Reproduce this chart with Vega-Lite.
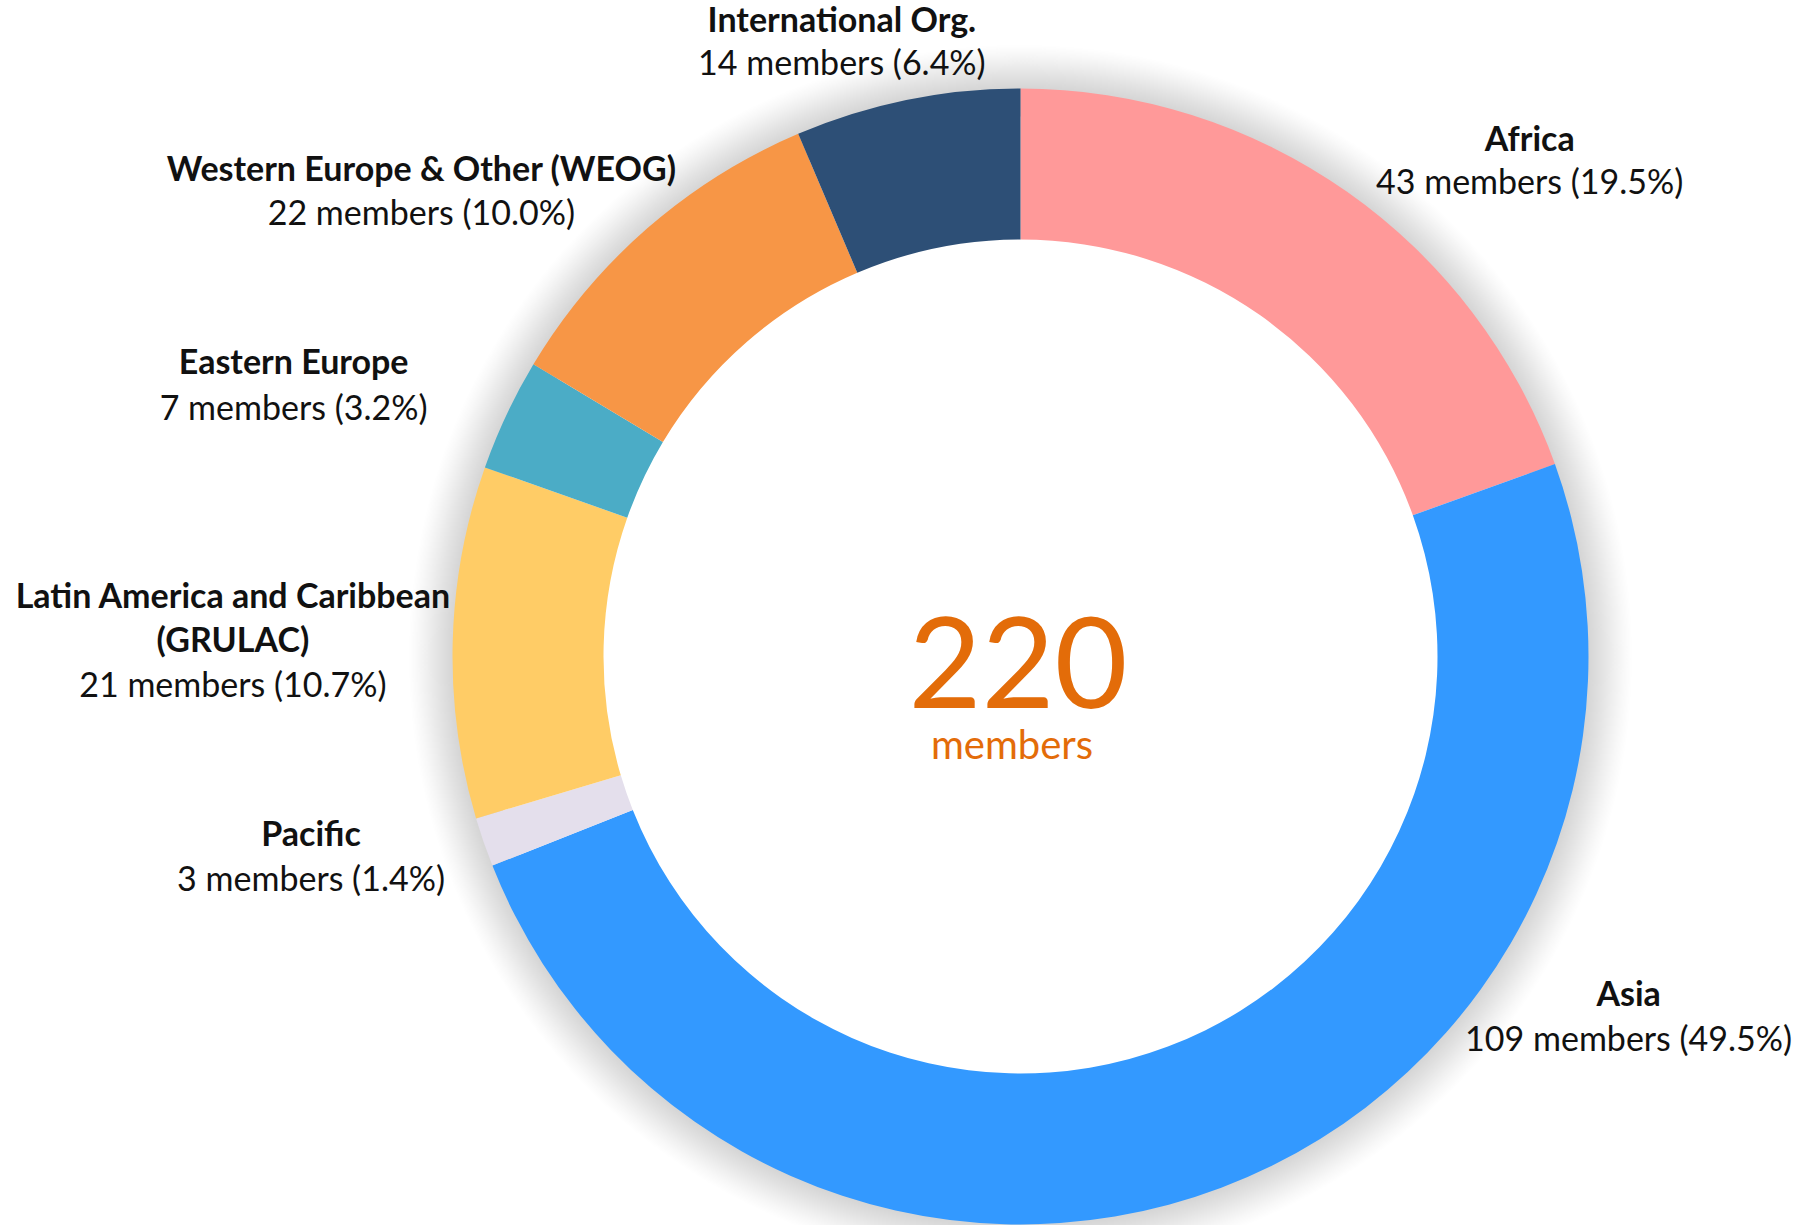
{
  "$schema": "https://vega.github.io/schema/vega-lite/v6.json",
  "width": 1549,
  "height": 1137,
  "autosize": {"type": "none"},
  "padding": {"left": 246, "top": 88, "right": 0, "bottom": 0},
  "background": "#ffffff",
  "config": {"view": {"stroke": null}, "text": {"font": "Lato"}},
  "data": {
    "values": [
      {"region": "Africa", "members": 43, "arc_pct": 19.5, "detail": "43 members (19.5%)"},
      {"region": "Asia", "members": 109, "arc_pct": 49.5, "detail": "109 members (49.5%)"},
      {"region": "Pacific", "members": 3, "arc_pct": 1.4, "detail": "3 members (1.4%)"},
      {"region": "Latin America and Caribbean\n(GRULAC)", "members": 21, "arc_pct": 10.0, "detail": "21 members (10.7%)"},
      {"region": "Eastern Europe", "members": 7, "arc_pct": 3.2, "detail": "7 members (3.2%)"},
      {"region": "Western Europe & Other (WEOG)", "members": 22, "arc_pct": 10.0, "detail": "22 members (10.0%)"},
      {"region": "International Org.", "members": 14, "arc_pct": 6.4, "detail": "14 members (6.4%)"}
    ]
  },
  "transform": [{"window": [{"op": "row_number", "as": "rank"}]}],
  "layer": [
    {
      "data": {"values": [{"ring": "shadow"}]},
      "mark": {
        "type": "arc", "theta": 0, "theta2": 6.2832, "innerRadius": 540, "outerRadius": 612,
        "fill": {
          "gradient": "radial", "x1": 0.5, "y1": 0.5, "r1": 0, "x2": 0.5, "y2": 0.5, "r2": 0.5,
          "stops": [
            {"offset": 0.9, "color": "#d4d4d4"},
            {"offset": 0.93, "color": "#d6d6d6"},
            {"offset": 0.95, "color": "#e2e2e2"},
            {"offset": 0.97, "color": "#efefef"},
            {"offset": 0.985, "color": "#f8f8f8"},
            {"offset": 1, "color": "#ffffff"}
          ]
        }
      },
      "encoding": {}
    },
    {
      "mark": {"type": "arc", "innerRadius": 417, "outerRadius": 568},
      "encoding": {
        "theta": {"field": "arc_pct", "type": "quantitative", "stack": true},
        "order": {"field": "rank", "type": "quantitative"},
        "color": {
          "field": "region", "type": "nominal", "legend": null,
          "scale": {
            "domain": ["Africa", "Asia", "Pacific", "Latin America and Caribbean\n(GRULAC)", "Eastern Europe", "Western Europe & Other (WEOG)", "International Org."],
            "range": ["#FF9999", "#3399FF", "#E4DFEC", "#FFCC66", "#4BACC6", "#F79646", "#2D4F76"]
          }
        }
      }
    },
    {
      "mark": {"type": "text", "radius": 640, "dx": 141.2, "dy": 8.1, "fontWeight": "bold", "fontSize": 34, "align": "center", "baseline": "middle", "color": "#111111"},
      "encoding": {"theta": {"field": "arc_pct", "type": "quantitative", "stack": true}, "order": {"field": "rank", "type": "quantitative"}, "detail": {"field": "region", "type": "nominal"},
        "text": {"condition": {"test": "datum.rank === 1", "field": "region", "type": "nominal"}, "value": ""}}
    },
    {
      "mark": {"type": "text", "radius": 640, "dx": 141.2, "dy": 51.6, "fontSize": 34, "align": "center", "baseline": "middle", "color": "#111111"},
      "encoding": {"theta": {"field": "arc_pct", "type": "quantitative", "stack": true}, "order": {"field": "rank", "type": "quantitative"}, "detail": {"field": "region", "type": "nominal"},
        "text": {"condition": {"test": "datum.rank === 1", "field": "detail", "type": "nominal"}, "value": ""}}
    },
    {
      "mark": {"type": "text", "radius": 640, "dx": 381.9, "dy": -258.8, "fontWeight": "bold", "fontSize": 34, "align": "center", "baseline": "middle", "color": "#111111"},
      "encoding": {"theta": {"field": "arc_pct", "type": "quantitative", "stack": true}, "order": {"field": "rank", "type": "quantitative"}, "detail": {"field": "region", "type": "nominal"},
        "text": {"condition": {"test": "datum.rank === 2", "field": "region", "type": "nominal"}, "value": ""}}
    },
    {
      "mark": {"type": "text", "radius": 640, "dx": 381.9, "dy": -214.4, "fontSize": 34, "align": "center", "baseline": "middle", "color": "#111111"},
      "encoding": {"theta": {"field": "arc_pct", "type": "quantitative", "stack": true}, "order": {"field": "rank", "type": "quantitative"}, "detail": {"field": "region", "type": "nominal"},
        "text": {"condition": {"test": "datum.rank === 2", "field": "detail", "type": "nominal"}, "value": ""}}
    },
    {
      "mark": {"type": "text", "radius": 640, "dx": -104.6, "dy": -29.8, "fontWeight": "bold", "fontSize": 34, "align": "center", "baseline": "middle", "color": "#111111"},
      "encoding": {"theta": {"field": "arc_pct", "type": "quantitative", "stack": true}, "order": {"field": "rank", "type": "quantitative"}, "detail": {"field": "region", "type": "nominal"},
        "text": {"condition": {"test": "datum.rank === 3", "field": "region", "type": "nominal"}, "value": ""}}
    },
    {
      "mark": {"type": "text", "radius": 640, "dx": -104.6, "dy": 14.8, "fontSize": 34, "align": "center", "baseline": "middle", "color": "#111111"},
      "encoding": {"theta": {"field": "arc_pct", "type": "quantitative", "stack": true}, "order": {"field": "rank", "type": "quantitative"}, "detail": {"field": "region", "type": "nominal"},
        "text": {"condition": {"test": "datum.rank === 3", "field": "detail", "type": "nominal"}, "value": ""}}
    },
    {
      "mark": {"type": "text", "radius": 640, "dx": -147.8, "dy": -42.9, "fontWeight": "bold", "fontSize": 34, "align": "center", "baseline": "middle", "lineBreak": "\n", "lineHeight": 44, "color": "#111111"},
      "encoding": {"theta": {"field": "arc_pct", "type": "quantitative", "stack": true}, "order": {"field": "rank", "type": "quantitative"}, "detail": {"field": "region", "type": "nominal"},
        "text": {"condition": {"test": "datum.rank === 4", "field": "region", "type": "nominal"}, "value": ""}}
    },
    {
      "mark": {"type": "text", "radius": 640, "dx": -147.8, "dy": 46.4, "fontSize": 34, "align": "center", "baseline": "middle", "color": "#111111"},
      "encoding": {"theta": {"field": "arc_pct", "type": "quantitative", "stack": true}, "order": {"field": "rank", "type": "quantitative"}, "detail": {"field": "region", "type": "nominal"},
        "text": {"condition": {"test": "datum.rank === 4", "field": "detail", "type": "nominal"}, "value": ""}}
    },
    {
      "mark": {"type": "text", "radius": 640, "dx": -147.8, "dy": -19.7, "fontWeight": "bold", "fontSize": 34, "align": "center", "baseline": "middle", "color": "#111111"},
      "encoding": {"theta": {"field": "arc_pct", "type": "quantitative", "stack": true}, "order": {"field": "rank", "type": "quantitative"}, "detail": {"field": "region", "type": "nominal"},
        "text": {"condition": {"test": "datum.rank === 5", "field": "region", "type": "nominal"}, "value": ""}}
    },
    {
      "mark": {"type": "text", "radius": 640, "dx": -147.8, "dy": 26.0, "fontSize": 34, "align": "center", "baseline": "middle", "color": "#111111"},
      "encoding": {"theta": {"field": "arc_pct", "type": "quantitative", "stack": true}, "order": {"field": "rank", "type": "quantitative"}, "detail": {"field": "region", "type": "nominal"},
        "text": {"condition": {"test": "datum.rank === 5", "field": "detail", "type": "nominal"}, "value": ""}}
    },
    {
      "mark": {"type": "text", "radius": 640, "dx": -178.9, "dy": -3.0, "fontWeight": "bold", "fontSize": 34, "align": "center", "baseline": "middle", "color": "#111111"},
      "encoding": {"theta": {"field": "arc_pct", "type": "quantitative", "stack": true}, "order": {"field": "rank", "type": "quantitative"}, "detail": {"field": "region", "type": "nominal"},
        "text": {"condition": {"test": "datum.rank === 6", "field": "region", "type": "nominal"}, "value": ""}}
    },
    {
      "mark": {"type": "text", "radius": 640, "dx": -178.9, "dy": 41.7, "fontSize": 34, "align": "center", "baseline": "middle", "color": "#111111"},
      "encoding": {"theta": {"field": "arc_pct", "type": "quantitative", "stack": true}, "order": {"field": "rank", "type": "quantitative"}, "detail": {"field": "region", "type": "nominal"},
        "text": {"condition": {"test": "datum.rank === 6", "field": "detail", "type": "nominal"}, "value": ""}}
    },
    {
      "mark": {"type": "text", "radius": 640, "dx": -50.8, "dy": -7.4, "fontWeight": "bold", "fontSize": 34, "align": "center", "baseline": "middle", "color": "#111111"},
      "encoding": {"theta": {"field": "arc_pct", "type": "quantitative", "stack": true}, "order": {"field": "rank", "type": "quantitative"}, "detail": {"field": "region", "type": "nominal"},
        "text": {"condition": {"test": "datum.rank === 7", "field": "region", "type": "nominal"}, "value": ""}}
    },
    {
      "mark": {"type": "text", "radius": 640, "dx": -50.8, "dy": 36.1, "fontSize": 34, "align": "center", "baseline": "middle", "color": "#111111"},
      "encoding": {"theta": {"field": "arc_pct", "type": "quantitative", "stack": true}, "order": {"field": "rank", "type": "quantitative"}, "detail": {"field": "region", "type": "nominal"},
        "text": {"condition": {"test": "datum.rank === 7", "field": "detail", "type": "nominal"}, "value": ""}}
    },
    {
      "data": {"values": [{"total": "220", "unit": "members"}]},
      "mark": {"type": "text", "fontSize": 126, "align": "center", "baseline": "alphabetic", "dx": -2.5, "dy": 51.5, "color": "#E36C09"},
      "encoding": {"text": {"field": "total", "type": "nominal"}}
    },
    {
      "data": {"values": [{"total": "220", "unit": "members"}]},
      "mark": {"type": "text", "fontSize": 40, "align": "center", "baseline": "alphabetic", "dx": -8.5, "dy": 102.5, "color": "#E36C09"},
      "encoding": {"text": {"field": "unit", "type": "nominal"}}
    }
  ]
}
